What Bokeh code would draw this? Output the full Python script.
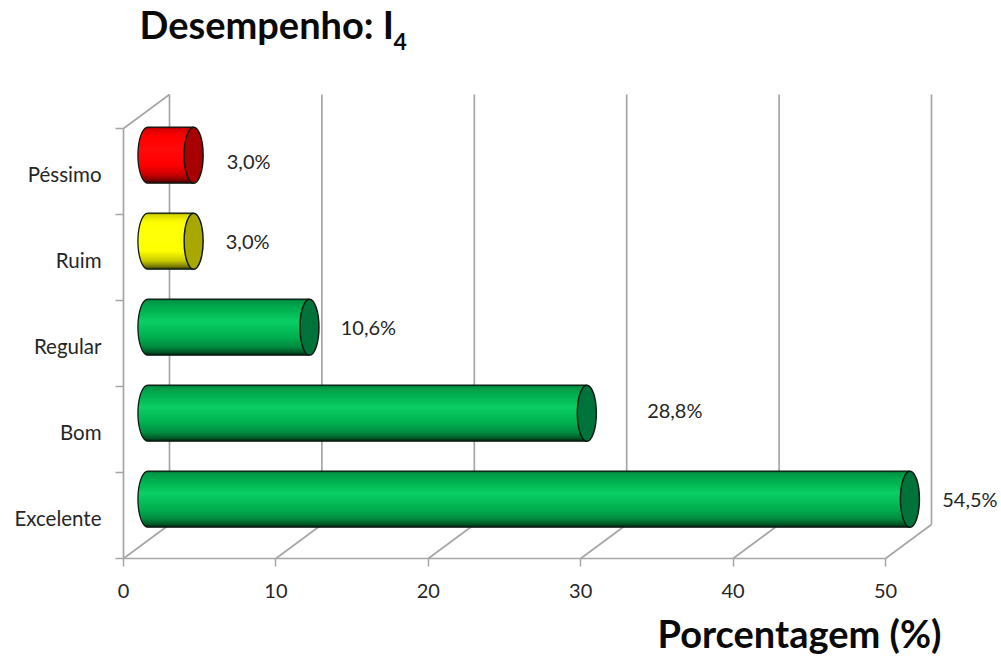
import numpy as np
from bokeh.plotting import figure
from bokeh.models import (ColumnDataSource, Range1d, LinearAxis, FixedTicker, Label)
from bokeh.core.properties import value
from bokeh.embed import file_html
from bokeh.resources import INLINE

categories = ["Excelente", "Bom", "Regular", "Ruim", "Péssimo"]
values = [54.5, 28.8, 10.6, 3.0, 3.0]
labels = ["54,5%", "28,8%", "10,6%", "3,0%", "3,0%"]
base_colors = [(0, 176, 80), (0, 176, 80), (0, 176, 80), (255, 255, 0), (255, 0, 0)]
cap_colors = ["#00733a", "#00733a", "#00733a", "#a8a800", "#a80000"]
x_ticks = [0, 10, 20, 30, 40, 50]
axis_max = 50

# styling / layout constants
W, H = 1001, 659
PXX = 15.24          # px per axis unit
PXY = 86.0           # px per category
X0, Y0 = 123, 558    # page position of the origin
DX, DY = 46 / PXX, 34 / PXY   # 3-D depth
BAR_SHIFT = 24.4 / PXX
CAP_W = 19 / PXX
BAR_H = 56 / PXY
BAR_YSHIFT = 0.19
LAB_DX = [60, 88, 59, 54, 55]      # px from bar end to label centre (moved by hand in the source)
LAB_DY = [0, 3, 0, 0, -6]
GRAY = "#a6a6a6"
FONT = "Lato"
TXT = "#262626"

p = figure(width=W, height=H, output_backend="svg", toolbar_location=None,
           x_range=Range1d(-X0 / PXX, (W - X0) / PXX),
           y_range=Range1d(-(H - Y0) / PXY, Y0 / PXY),
           x_axis_type=None, y_axis_type=None, min_border=0,
           outline_line_color=None, background_fill_color="white")
p.grid.visible = False

n = len(categories)
# walls and floor
gx = np.array(x_ticks, float)
p.segment(gx + DX, DY, gx + DX, n + DY, line_color=GRAY, line_width=1.7)   # back wall grid
p.segment(gx, 0, gx + DX, DY, line_color=GRAY, line_width=1.7)             # floor diagonals
p.segment([0], [n], [DX], [n + DY], line_color=GRAY, line_width=1.7)       # side wall top

# axes
xa = LinearAxis(ticker=FixedTicker(ticks=x_ticks), fixed_location=0, bounds=(0, axis_max))
xa.axis_line_color = GRAY; xa.axis_line_width = 1.7
xa.major_tick_line_color = GRAY; xa.major_tick_line_width = 1.5
xa.major_tick_out = 8; xa.major_tick_in = 0; xa.minor_tick_line_color = None
xa.major_label_standoff = 17
xa.major_label_text_font = FONT; xa.major_label_text_font_size = "20px"; xa.major_label_text_color = TXT
p.add_layout(xa, "below")

bound_ticks = list(range(n + 1))
ya = LinearAxis(ticker=FixedTicker(ticks=bound_ticks), fixed_location=0, bounds=(0, n),
                major_label_overrides={t: "" for t in bound_ticks})
ya.axis_line_color = GRAY; ya.axis_line_width = 1.7
ya.major_tick_line_color = GRAY; ya.major_tick_line_width = 1.5
ya.major_tick_out = 8; ya.major_tick_in = 0; ya.minor_tick_line_color = None
p.add_layout(ya, "left")

label_ticks = [i + 0.475 for i in range(n)]
yl = LinearAxis(ticker=FixedTicker(ticks=label_ticks), fixed_location=0,
                major_label_overrides={t: c for t, c in zip(label_ticks, categories)})
yl.axis_line_color = None; yl.major_tick_line_color = None; yl.minor_tick_line_color = None
yl.major_tick_out = 0; yl.major_tick_in = 0; yl.major_label_standoff = 22
yl.major_label_text_font = FONT; yl.major_label_text_font_size = "20.5px"; yl.major_label_text_color = TXT
p.add_layout(yl, "left")

# gradient profile of a cylinder, top (-1) to bottom (+1): brightness factor
stops_t = [-1.0, -0.93, -0.7, -0.2, 0.35, 0.7, 0.9, 1.0]
stops_f = [0.45, 0.85, 0.98, 1.12, 1.0, 0.8, 0.5, 0.2]
bands = 56

ys, lefts, rights, cols = [], [], [], []
ends = [min(v, axis_max) + BAR_SHIFT for v in values]
centers = [i + 0.5 + BAR_YSHIFT for i in range(n)]
for c, e, base in zip(centers, ends, base_colors):
    for k in range(bands):
        t = -1 + (k + 0.5) * 2 / bands
        f = np.interp(t, stops_t, stops_f)
        rgb = []
        for ch in base:
            v = ch * f
            if f > 1:
                v = ch * f + 20 * (f - 1) / 0.12 * (1 if ch < 255 else 0) * 0.5
            rgb.append(int(min(255, v)))
        ys.append(c - t * BAR_H / 2)
        lefts.append(BAR_SHIFT - CAP_W / 2 * 1.05 * np.sqrt(1 - t * t))
        rights.append(e)
        cols.append("#%02x%02x%02x" % tuple(rgb))
p.hbar(y="y", left="l", right="r", height=1.4 / PXY, color="c", line_color=None,
       source=ColumnDataSource(dict(y=ys, l=lefts, r=rights, c=cols)))

OUT = "#0c1a12"
xs_l, ys_l = [], []
for c, e in zip(centers, ends):
    th = np.radians(np.arange(90, 271, 6))
    xs_l.append(BAR_SHIFT + CAP_W / 2 * 1.05 * np.cos(th))
    ys_l.append(c + BAR_H / 2 * np.sin(th))
p.multi_line(xs_l, ys_l, line_color=OUT, line_width=1.3)
p.segment([BAR_SHIFT] * n, [c + BAR_H / 2 for c in centers], ends, [c + BAR_H / 2 for c in centers],
          line_color=OUT, line_width=1.3)
p.segment([BAR_SHIFT] * n, [c - BAR_H / 2 for c in centers], ends, [c - BAR_H / 2 for c in centers],
          line_color=OUT, line_width=1.3)
p.ellipse(ends, centers, width=CAP_W, height=BAR_H, fill_color=cap_colors, line_color=OUT, line_width=1.5)

# data labels
lx = [e + d / PXX for e, d in zip(ends, LAB_DX)]
ly = [c + d / PXY for c, d in zip(centers, LAB_DY)]
p.text(lx, ly, text=labels, text_font=value(FONT), text_font_size="20px", text_color=TXT,
       text_align="center", text_baseline="middle")

# titles
p.add_layout(Label(x=139, y=H - 46, x_units="screen", y_units="screen", text="Desempenho: I",
                   text_font=FONT, text_font_style="bold", text_font_size="38px", text_color="#0a0a0a"))
p.add_layout(Label(x=393, y=H - 49, x_units="screen", y_units="screen", text="4",
                   text_font=FONT, text_font_style="bold", text_font_size="23px", text_color="#0a0a0a"))
p.add_layout(Label(x=657, y=H - 655, x_units="screen", y_units="screen", text="Porcentagem (%)",
                   text_font=FONT, text_font_style="bold", text_font_size="38px", text_color="#0a0a0a"))

open("out.html", "w").write(file_html(p, INLINE))
